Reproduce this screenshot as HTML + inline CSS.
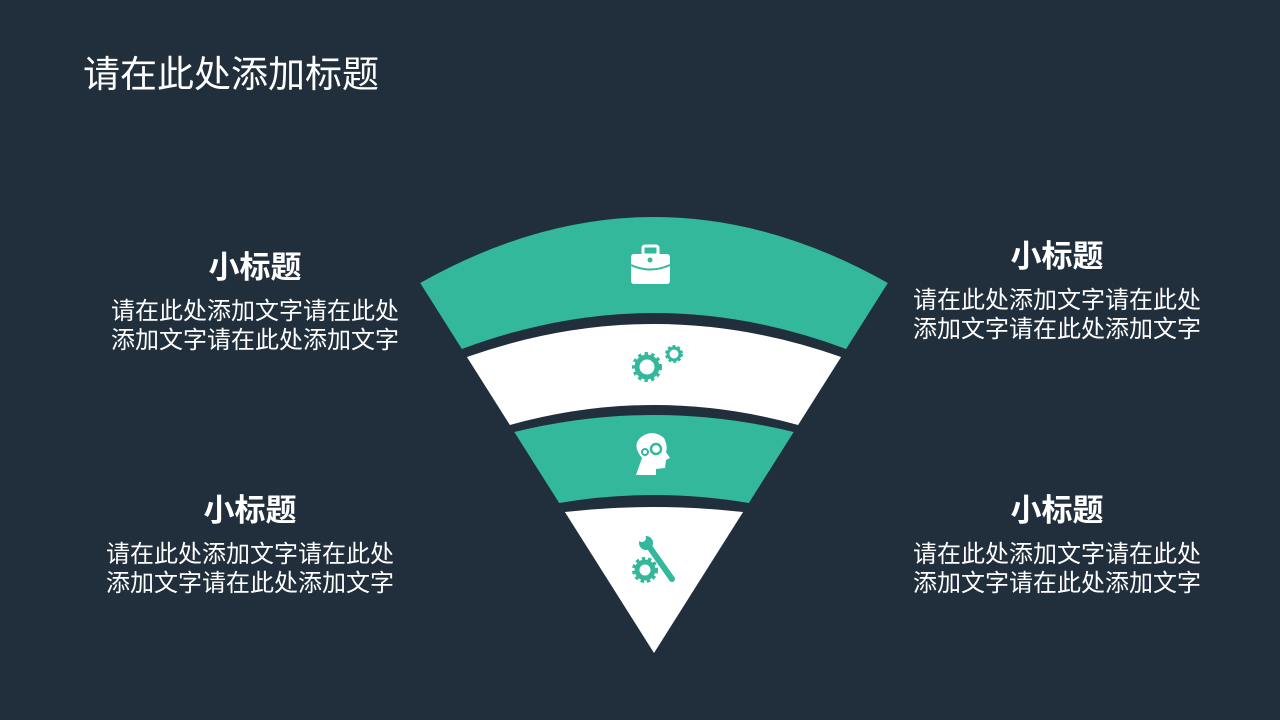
<!DOCTYPE html>
<html style="overflow:hidden"><head><meta charset="utf-8"><style>
html,body{margin:0;width:1280px;height:720px;overflow:hidden}
body{background:#212f3c;position:relative;font-family:"Liberation Sans","Noto Sans CJK SC",sans-serif;color:#fff}
.t{position:absolute;left:83px;top:51px;font-size:37px;line-height:48px}
.b{position:absolute;width:340px;text-align:center}
.b h3{margin:0 0 10px;font-size:31px;font-weight:bold;line-height:38px}
.b p{margin:0;font-size:24px;line-height:29px}
</style></head><body>
<div class="t">请在此处添加标题</div>
<div class="b" style="left:85px;top:249px"><h3>小标题</h3><p>请在此处添加文字请在此处<br>添加文字请在此处添加文字</p></div>
<div class="b" style="left:887px;top:238px"><h3>小标题</h3><p>请在此处添加文字请在此处<br>添加文字请在此处添加文字</p></div>
<div class="b" style="left:80px;top:492px"><h3>小标题</h3><p>请在此处添加文字请在此处<br>添加文字请在此处添加文字</p></div>
<div class="b" style="left:887px;top:492px"><h3>小标题</h3><p>请在此处添加文字请在此处<br>添加文字请在此处添加文字</p></div>
<svg width="1280" height="720" style="position:absolute;left:0;top:0">
<path d="M420.2 283 Q654 151 887.8 283 L846.1 349 Q654 277 461.9 349 Z" fill="#34b89c"/>
<path d="M466.9 357 Q654 291 841.1 357 L798.1 425 Q654 385 509.9 425 Z" fill="#fff"/>
<path d="M514.3 432 Q654 398 793.7 432 L748.8 503 Q654 487 559.2 503 Z" fill="#34b89c"/>
<path d="M564.9 512 Q654 502 743.1 512 L654 653 Z" fill="#fff"/>
<rect x="631" y="254" width="39" height="30" rx="3" fill="#fff"/>
<rect x="643" y="246" width="15" height="9" rx="2" fill="none" stroke="#fff" stroke-width="3"/>
<path d="M631 265 Q650 274 670 265" stroke="#34b89c" stroke-width="2" fill="none"/>
<circle cx="650" cy="260" r="2.5" fill="#34b89c"/>
<circle cx="647" cy="367" r="12" fill="none" stroke="#34b89c" stroke-width="6" stroke-dasharray="3 3"/>
<circle cx="647" cy="367" r="10" fill="none" stroke="#34b89c" stroke-width="5"/>
<circle cx="674" cy="354" r="7" fill="none" stroke="#34b89c" stroke-width="4" stroke-dasharray="2.5 2"/>
<circle cx="674" cy="354" r="6" fill="none" stroke="#34b89c" stroke-width="3"/>
<path d="M636 475 L642 458 Q632 446 640 438 Q652 428 664 438 Q668 446 666 452 L670 458 L666 460 L665 468 L656 469 L656 475 Z" fill="#fff"/>
<circle cx="656" cy="449" r="5" fill="none" stroke="#34b89c" stroke-width="2.5"/>
<circle cx="645" cy="452" r="3" fill="none" stroke="#34b89c" stroke-width="2"/>
<line x1="648" y1="545" x2="672" y2="579" stroke="#34b89c" stroke-width="6" stroke-linecap="round"/>
<circle cx="646" cy="543" r="7" fill="#34b89c"/>
<circle cx="642" cy="538" r="4" fill="#fff"/>
<circle cx="645" cy="570" r="10" fill="none" stroke="#34b89c" stroke-width="6" stroke-dasharray="3 2.5"/>
<circle cx="645" cy="570" r="8" fill="none" stroke="#34b89c" stroke-width="5"/>
</svg>
</body></html>
